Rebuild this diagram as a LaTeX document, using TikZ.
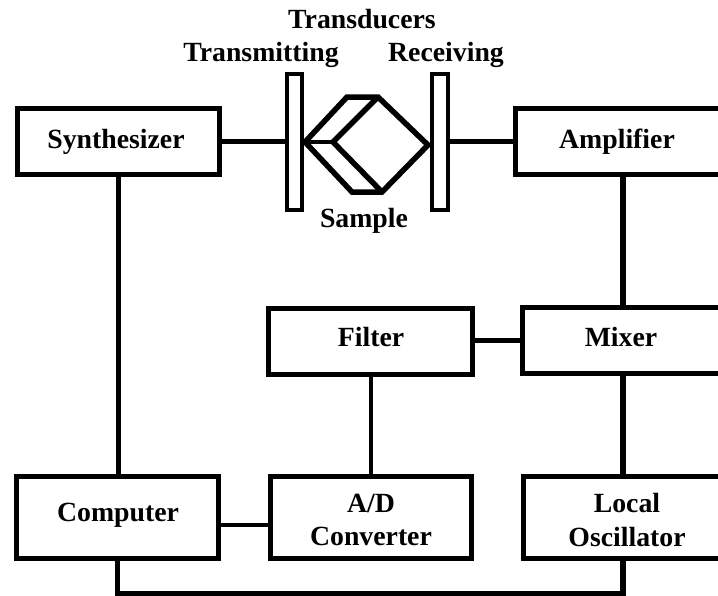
\documentclass[tikz,border=0pt]{standalone}
\usepackage{fontspec}
\setmainfont{Liberation Serif}
\usepackage{tikz}
\tikzset{
unit/.style={draw, line width=0.1cm, rectangle, outer sep=0pt, inner sep=0pt},
plate/.style={draw, line width=0.08cm, rectangle, outer sep=0pt, inner sep=0pt, minimum width=0.32cm, minimum height=2.72cm},
tag/.style={font=\fontsize{15.8}{18.8}\selectfont\bfseries, align=center, inner sep=0pt},
wire/.style={line width=0.11cm},
thinwire/.style={line width=0.08cm}
}

\begin{document}
\begin{tikzpicture}[x=0.02cm,y=-0.02cm]
\clip (0,0) rectangle (718,596);
\useasboundingbox (0,0) rectangle (718,596);
% draws units
\node[unit, minimum width=4.06cm, minimum height=1.34cm] (synth) at (118.5,141.5) {};
\node[unit, minimum width=4.2cm, minimum height=1.34cm] (amp) at (620,141.5) {};
\node[unit, minimum width=4.1cm, minimum height=1.32cm] (filter) at (370.5,341.5) {};
\node[unit, minimum width=4.0cm, minimum height=1.34cm] (mixer) at (622,340.5) {};
\node[unit, minimum width=4.06cm, minimum height=1.66cm] (comp) at (117.5,517.5) {};
\node[unit, minimum width=4.04cm, minimum height=1.66cm] (adc) at (371,517.5) {};
\node[unit, minimum width=4.0cm, minimum height=1.66cm] (osc) at (623,517.5) {};
% draws transducers
\node[plate] (trans) at (294.5,142) {};
\node[plate] (recv) at (440,142) {};
% sample corners
\coordinate (sl) at (305,142);
\coordinate (st) at (347,97);
\coordinate (su) at (378,97);
\coordinate (sr) at (428,145);
\coordinate (sv) at (382,192);
\coordinate (sb) at (352,192);
\coordinate (si) at (333,142);
% draws sample
\draw[wire, line join=miter] (sl) -- (st) -- (su) -- (sr) -- (sv) -- (sb) -- cycle;
\draw[wire, line join=miter] (su) -- (si) -- (sv);
\draw[thinwire] (sl) -- (si);
% labels
\node[tag] (ltrd) at (362,19) {Transducers};
\node[tag] (ltrm) at (261,54.5) {Transmitting};
\node[tag] (lrcv) at (446,54.5) {Receiving};
\node[tag] (lsmp) at (364,221) {Sample};
\node[tag] (lsyn) at (116,141.5) {Synthesizer};
\node[tag] (lamp) at (617,141.5) {Amplifier};
\node[tag] (lfil) at (371,337) {Filter};
\node[tag] (lmix) at (621,337) {Mixer};
\node[tag] (lcom) at (118,515) {Computer};
\node[tag] (ladc) at (371,520) {A/D\\Converter};
\node[tag] (losc) at (627,520) {Local\\Oscillator};
% draws connections
\draw[wire] (synth.east) -- (synth.east -| trans.west);
\draw[wire] (recv.east |- amp.west) -- (amp.west);
\draw[wire] (synth.south) -- (synth.south |- comp.north);
\draw[wire] (amp.south -| osc.north) -- (mixer.north -| osc.north);
\draw[wire] (filter.east |- mixer.west) -- (mixer.west);
\draw[thinwire] (filter.south -| adc.north) -- (adc.north);
\draw[wire] (mixer.south -| osc.north) -- (osc.north);
\draw[thinwire] (comp.east |- 0,525) -- (adc.west |- 0,525);
\draw[wire, line join=miter] (comp.south) -- ++(0,35) -| (osc.south);
\end{tikzpicture}
\end{document}
